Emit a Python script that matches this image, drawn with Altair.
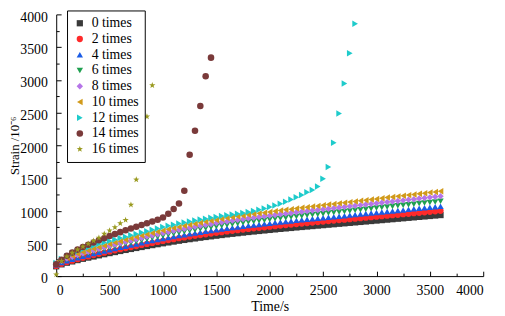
import altair as alt
import pandas as pd

series_names = ["0 times", "2 times", "4 times", "6 times", "8 times",
                "10 times", "12 times", "14 times", "16 times"]
colors = ["#3a3a3a", "#ff2a2a", "#1a5ce6", "#1fa050", "#b675e8",
          "#d19a1a", "#1ecbcb", "#7a3a3a", "#9a9a20"]
star = "M0,-1L0.235,-0.324L0.951,-0.309L0.38,0.124L0.588,0.809L0,0.4L-0.588,0.809L-0.38,0.124L-0.951,-0.309L-0.235,-0.324Z"
shapes = ["square", "circle", "triangle-up", "triangle-down", "diamond",
          "triangle-left", "triangle-right", "circle", star]
sizes = [40, 45, 55, 55, 50, 55, 60, 85, 130]

time_s = list(range(0, 3650, 50))

s0 = [150,180,205,225,245,265,283,300,318,335,
      352,368,384,400,415,430,445,460,474,488,
      502,515,528,541,553,565,576,587,598,608,
      618,628,638,647,656,665,674,682,690,698,
      706,714,722,729,736,744,751,758,765,772,
      779,786,793,800,807,814,821,828,835,842,
      849,856,863,870,877,884,891,898,905,912,
      919,926,933]
s2 = [155,188,214,236,258,280,300,321,340,358,
      377,394,411,428,444,460,476,492,507,522,
      537,551,565,579,592,605,616,628,640,651,
      661,672,683,692,702,712,721,730,738,747,
      755,764,773,780,788,796,804,811,819,826,
      834,841,849,856,863,871,878,886,893,901,
      908,916,923,931,938,946,953,961,968,976,
      983,991,998]
s4 = [172,206,235,258,281,303,324,344,364,384,
      403,421,440,458,475,492,510,527,543,559,
      575,590,605,619,633,647,660,672,685,696,
      708,719,731,741,751,761,772,781,790,799,
      808,818,827,835,843,852,860,868,876,884,
      892,900,908,916,924,932,940,948,956,964,
      972,980,988,996,1004,1012,1020,1028,1036,1044,
      1052,1060,1068]
s6 = [184,221,251,276,300,325,347,368,390,410,
      431,451,470,490,508,527,545,564,581,598,
      615,631,647,663,677,692,706,719,733,745,
      757,769,782,793,804,815,826,835,845,855,
      865,875,884,893,902,911,920,929,937,946,
      954,963,971,980,989,997,1006,1014,1023,1031,
      1040,1049,1057,1066,1074,1083,1091,1100,1109,1117,
      1126,1134,1143]
s8 = [197,236,269,295,321,347,371,393,417,439,
      461,482,503,524,544,563,583,603,621,639,
      658,675,692,709,724,740,755,769,783,796,
      810,823,836,848,859,871,883,893,904,914,
      925,935,946,955,964,975,984,993,1002,1011,
      1020,1030,1039,1048,1057,1066,1076,1085,1094,1103,
      1112,1121,1131,1140,1149,1158,1167,1176,1186,1195,
      1204,1213,1222]
s10 = [209,250,285,313,341,368,393,417,442,466,
       489,512,534,556,577,598,619,639,659,678,
       698,716,734,752,769,785,801,816,831,845,
       859,873,887,899,912,924,937,948,959,970,
       981,992,1004,1013,1023,1034,1044,1054,1063,1073,
       1083,1093,1102,1112,1122,1131,1141,1151,1161,1170,
       1180,1190,1200,1209,1219,1229,1238,1248,1258,1268,
       1277,1287,1297]
s12 = [200,260,305,345,380,410,438,465,490,515,
       538,560,582,603,624,645,666,687,708,729,
       750,768,786,803,819,835,850,864,878,891,
       904,917,930,942,954,966,980,997,1015,1035,
       1055,1080,1105,1135,1170,1205,1240,1280,1318,1368,
       1489,1669,2039,2485,2945,3406,3858]
s14 = [180,250,310,360,405,445,480,515,548,580,
       612,642,672,700,728,755,782,808,835,862,
       895,953,1026,1109,1304,1854,2223,2599,3055,3339]
s16 = [25,230,300,355,405,450,495,540,585,647,
       696,745,807,857,1090,1474,2034,2438,2915]

all_series = [s0, s2, s4, s6, s8, s10, s12, s14, s16]

rows = []
for k, (name, vals) in enumerate(zip(series_names, all_series)):
    for t, v in zip(time_s, vals):
        rows.append({"t": t, "v": v, "series": name, "k": k})
df = pd.DataFrame(rows)

FONT = "Times New Roman, Liberation Serif, serif"
tick_x = list(range(0, 4001, 250))
tick_y = list(range(0, 4001, 250))
TICK = "datum.value % 500 === 0 ? -5 : -3"
LAB = "datum.value % 500 === 0 ? datum.label : ''"

chart = alt.Chart(df).mark_point(filled=True, opacity=1, strokeWidth=0).encode(
    x=alt.X("t:Q",
            scale=alt.Scale(domain=[0, 4000], nice=False, zero=False),
            axis=alt.Axis(values=tick_x, format="d", labelExpr=LAB,
                          tickSize=alt.ExprRef(expr=TICK),
                          title="Time/s", grid=False,
                          domainColor="black", tickColor="black",
                          labelFont=FONT, labelFontSize=14, labelColor="black",
                          labelPadding=13,
                          titleFont=FONT, titleFontSize=14, titleFontWeight="normal",
                          titleColor="black", titleY=31, titleBaseline="middle")),
    y=alt.Y("v:Q",
            scale=alt.Scale(domain=[0, 4000], nice=False),
            axis=alt.Axis(values=tick_y, format="d", labelExpr=LAB,
                          tickSize=alt.ExprRef(expr=TICK),
                          title="Strain /10⁻⁶", grid=False,
                          domainColor="black", tickColor="black",
                          labelFont=FONT, labelFontSize=14, labelColor="black",
                          labelPadding=14, labelOffset=3,
                          titleFont=FONT, titleFontSize=13, titleFontWeight="normal",
                          titleColor="black", titleX=-42, titleBaseline="middle")),
    color=alt.Color("series:N", scale=alt.Scale(domain=series_names, range=colors),
                    legend=alt.Legend(orient="none", legendX=11, legendY=-4, title=None,
                                      strokeColor="black", padding=6,
                                      labelFont=FONT, labelFontSize=14, labelColor="black",
                                      rowPadding=2, labelOffset=5, fillColor="white")),
    shape=alt.Shape("series:N", scale=alt.Scale(domain=series_names, range=shapes)),
    size=alt.Size("series:N", scale=alt.Scale(domain=series_names, range=sizes)),
    order=alt.Order("k:Q"),
).properties(
    width=434, height=266,
    autosize=alt.AutoSizeParams(type="none"),
    padding={"left": 49, "top": 4, "right": 14, "bottom": 36},
    background="white",
).configure_view(stroke=None)

chart.save("out.html", embed_options={"renderer": "svg", "actions": False})
